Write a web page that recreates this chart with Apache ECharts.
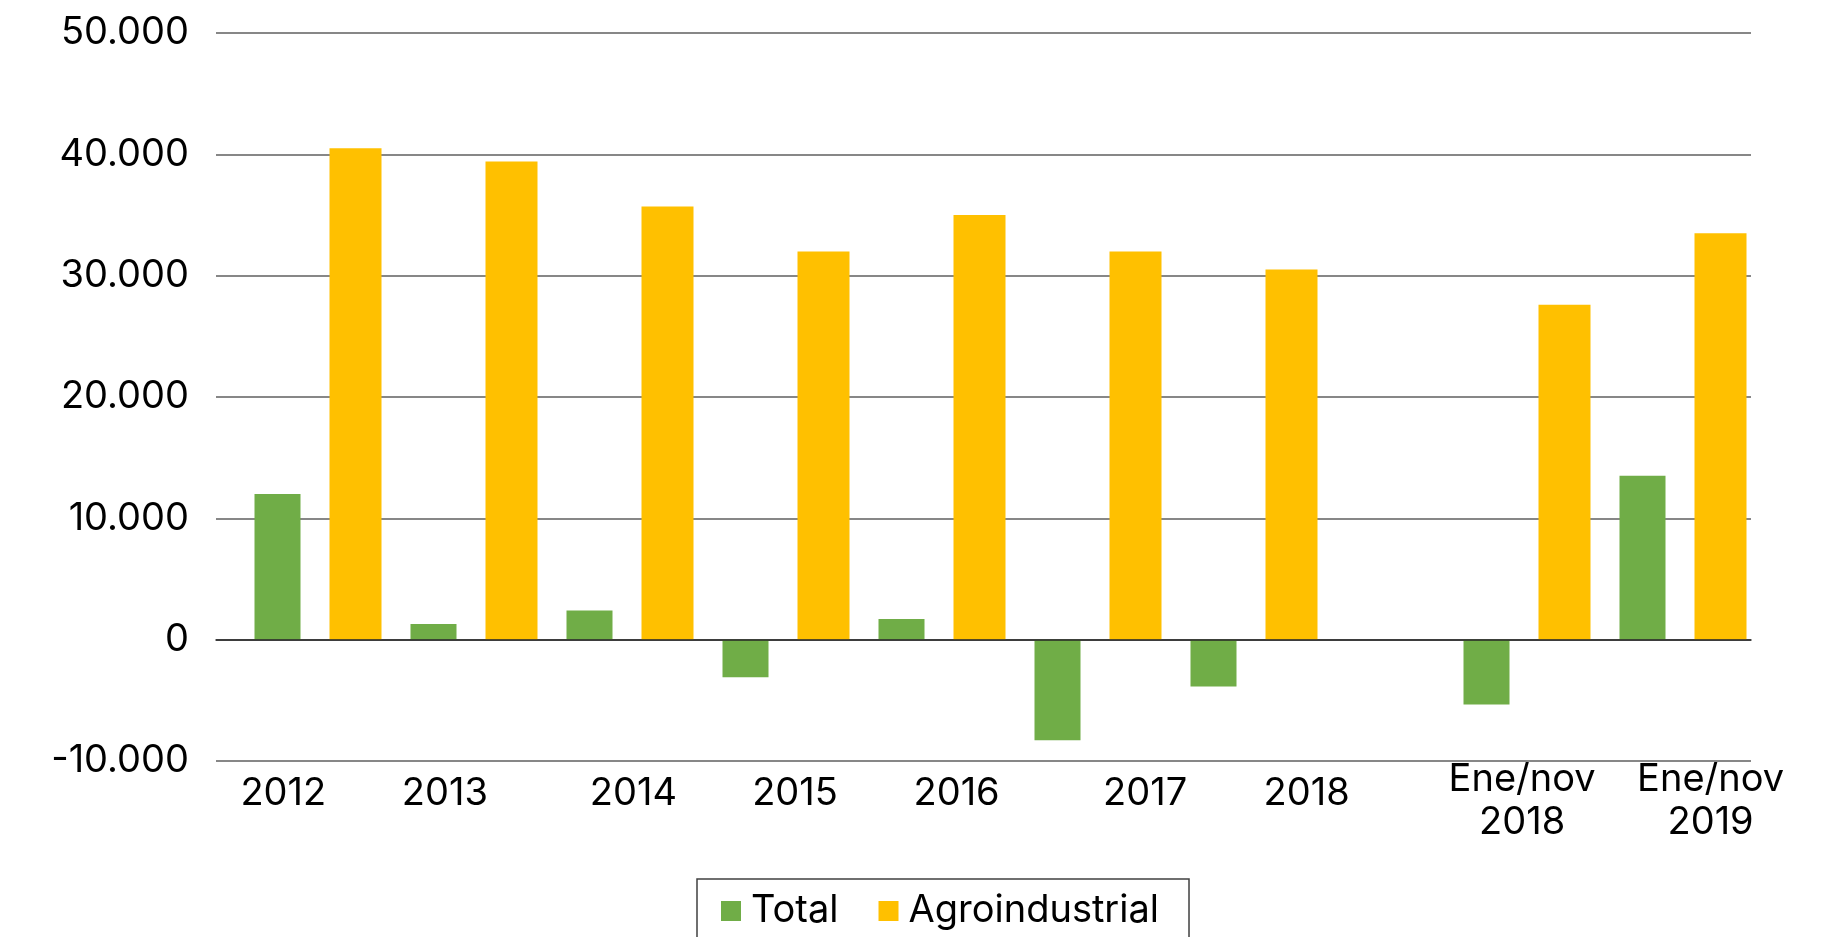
<!DOCTYPE html>
<html>
<head>
<meta charset="utf-8">
<script src="https://cdn.jsdelivr.net/npm/echarts@6/dist/echarts.min.js"></script>
<style>
  html, body { margin: 0; padding: 0; background: #ffffff; }
  #chart { width: 1832px; height: 937px; }
</style>
</head>
<body>
<div id="chart"></div>
<script>
// Periods shown on the horizontal axis
const categories = ['2012', '2013', '2014', '2015', '2016', '2017', '2018', 'Ene/nov\n2018', 'Ene/nov\n2019'];
// Trade balance values per period
const totalValues = [12000, 1300, 2400, -3100, 1700, -8300, -3850, -5350, 13500];
const agroValues = [40500, 39400, 35700, 32000, 35000, 32000, 30500, 27600, 33500];
const seriesNames = ['Total', 'Agroindustrial'];
// Value axis ticks
const yMin = -10000;
const yMax = 50000;
const yStep = 10000;

// Bar axis: every bar gets its own slot followed by a spacer slot;
// a wider break separates the full years from the Ene/nov period.
const annualCount = 7;
const breakSpacers = 3;
const barSlots = [];
const totalData = [];
const agroData = [];
function pushSlot(name, t, a) {
  barSlots.push(name);
  totalData.push(t);
  agroData.push(a);
}
categories.forEach((c, i) => {
  if (i === annualCount) {
    for (let s = 0; s < breakSpacers; s++) pushSlot('', null, null);
  }
  pushSlot(c + ' · ' + seriesNames[0], totalValues[i], null);
  pushSlot('', null, null);
  pushSlot(c + ' · ' + seriesNames[1], null, agroValues[i]);
  if (i < categories.length - 1) pushSlot('', null, null);
});

// Period labels sit on a finer axis across the whole frame
const labelSlotCount = 57;
const labelAt = [2, 8, 15, 21, 27, 34, 40, 48, 55];
const labelSlots = new Array(labelSlotCount).fill('');
categories.forEach((c, i) => { labelSlots[labelAt[i]] = c; });

const FONT = 'Inter';
const FS = 38;
const fmt = v => String(v).replace(/\B(?=(\d{3})+(?!\d))/g, '.');
// two-line period labels hang slightly lower than single-line ones
const periodLabel = v => {
  if (!v || v.indexOf('\n') < 0) return v;
  return '{gap| }\n' + v.split('\n').map(s => '{m|' + s + '}').join('\n');
};

const chart = echarts.init(document.getElementById('chart'));
chart.setOption({
  animation: false,
  backgroundColor: '#ffffff',
  textStyle: { fontFamily: FONT },
  grid: [
    // frame with value labels and grid lines
    { left: 216, right: 81, top: 33, bottom: 176, containLabel: false },
    // bar area
    { left: 258, right: 92, top: 33, bottom: 176, containLabel: false }
  ],
  legend: {
    data: seriesNames,
    left: 697,
    top: 879,
    icon: 'rect',
    itemWidth: 20,
    itemHeight: 20,
    itemGap: 40,
    padding: [13, 30, 12, 24],
    borderColor: '#404040',
    borderWidth: 1.5,
    textStyle: { fontFamily: FONT, fontSize: FS, color: '#000000', padding: [0, 0, 0, 5] }
  },
  xAxis: [
    {
      type: 'category',
      gridIndex: 1,
      data: barSlots,
      show: false
    },
    {
      type: 'category',
      gridIndex: 1,
      data: barSlots,
      show: false
    },
    {
      type: 'category',
      gridIndex: 0,
      data: labelSlots,
      position: 'bottom',
      axisLine: { show: false, onZero: false },
      axisTick: { show: false },
      splitLine: { show: false },
      axisLabel: {
        interval: 0,
        fontFamily: FONT,
        fontSize: FS,
        color: '#000000',
        verticalAlign: 'middle',
        lineHeight: 43,
        margin: 33,
        formatter: periodLabel,
        rich: {
          gap: { fontSize: 6, lineHeight: 14, fontFamily: FONT },
          m: { fontSize: FS, lineHeight: 43, fontFamily: FONT, color: '#000000' }
        }
      }
    },
    {
      // zero line drawn above the bars
      type: 'category',
      gridIndex: 0,
      data: labelSlots,
      position: 'bottom',
      z: 10,
      axisLine: { show: true, onZero: true, lineStyle: { color: '#262626', width: 1.5 } },
      axisTick: { show: false },
      axisLabel: { show: false },
      splitLine: { show: false }
    }
  ],
  yAxis: [
    {
      type: 'value',
      gridIndex: 0,
      min: yMin,
      max: yMax,
      interval: yStep,
      axisLine: { show: false },
      axisTick: { show: false },
      splitLine: { lineStyle: { color: '#5f5f5f', width: 1.5 } },
      axisLabel: {
        fontFamily: FONT,
        fontSize: FS,
        color: '#000000',
        margin: 27,
        formatter: fmt
      }
    },
    {
      type: 'value',
      gridIndex: 1,
      min: yMin,
      max: yMax,
      interval: yStep,
      show: false
    }
  ],
  series: [
    {
      name: seriesNames[0],
      type: 'bar',
      xAxisIndex: 0,
      yAxisIndex: 1,
      data: totalData,
      barWidth: 46,
      clip: false,
      itemStyle: { color: '#70AD47' }
    },
    {
      name: seriesNames[1],
      type: 'bar',
      xAxisIndex: 1,
      yAxisIndex: 1,
      data: agroData,
      barWidth: 52,
      clip: false,
      itemStyle: { color: '#FFC000' }
    }
  ]
});
</script>
</body>
</html>
